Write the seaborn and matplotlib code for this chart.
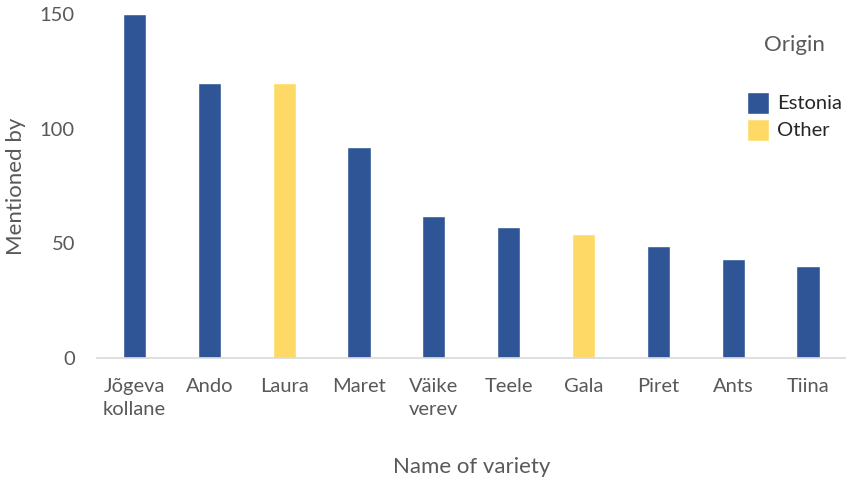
import pandas as pd
import matplotlib
matplotlib.use("Agg")
import matplotlib.pyplot as plt
import seaborn as sns

varieties = ["Jõgeva\nkollane", "Ando", "Laura", "Maret", "Väike\nverev",
             "Teele", "Gala", "Piret", "Ants", "Tiina"]
mentions = [150, 120, 120, 92, 62, 57, 54, 49, 43, 40]
origin = ["Estonia", "Estonia", "Other", "Estonia", "Estonia",
          "Estonia", "Other", "Estonia", "Estonia", "Estonia"]

df = pd.DataFrame({"variety": varieties, "mentions": mentions, "origin": origin})

sns.set_style("white")
plt.rcParams["font.family"] = ["Lato", "DejaVu Sans"]

fig = plt.figure(figsize=(8.6, 4.8), dpi=100)
ax = fig.add_axes([0.113, 0.254, 0.87, 0.717])

sns.barplot(data=df, x="variety", y="mentions", hue="origin",
            palette={"Estonia": "#2F5597", "Other": "#FFD966"},
            dodge=False, width=0.31, ax=ax, saturation=1)

ax.set_ylim(0, 150)
ax.set_yticks([0, 50, 100, 150])
ax.set_xlim(-0.5, 9.5)
for s in ["top", "right", "left"]:
    ax.spines[s].set_visible(False)
ax.spines["bottom"].set_color("#d9d9d9")
ax.spines["bottom"].set_linewidth(1.2)
ax.tick_params(axis="both", length=0, labelsize=14.5, labelcolor="#595959")
ax.tick_params(axis="x", pad=14)
ax.tick_params(axis="y", pad=16)
for t in ax.get_xticklabels():
    t.set_linespacing(1.45)
    t.set_verticalalignment("top")
ax.set_xlabel("Name of variety", fontsize=16, color="#595959", labelpad=28)
ax.set_ylabel("Mentioned by", fontsize=16, color="#595959", labelpad=10)

leg = ax.legend(title="Origin", loc="upper right", bbox_to_anchor=(1.02, 0.99),
                frameon=False, fontsize=14.5, title_fontsize=16,
                handlelength=1.1, handleheight=1.3, handletextpad=0.4,
                labelspacing=0.25)
leg.get_title().set_color("#595959")
leg._legend_box.sep = 26

fig.savefig("out.png", dpi=100)
